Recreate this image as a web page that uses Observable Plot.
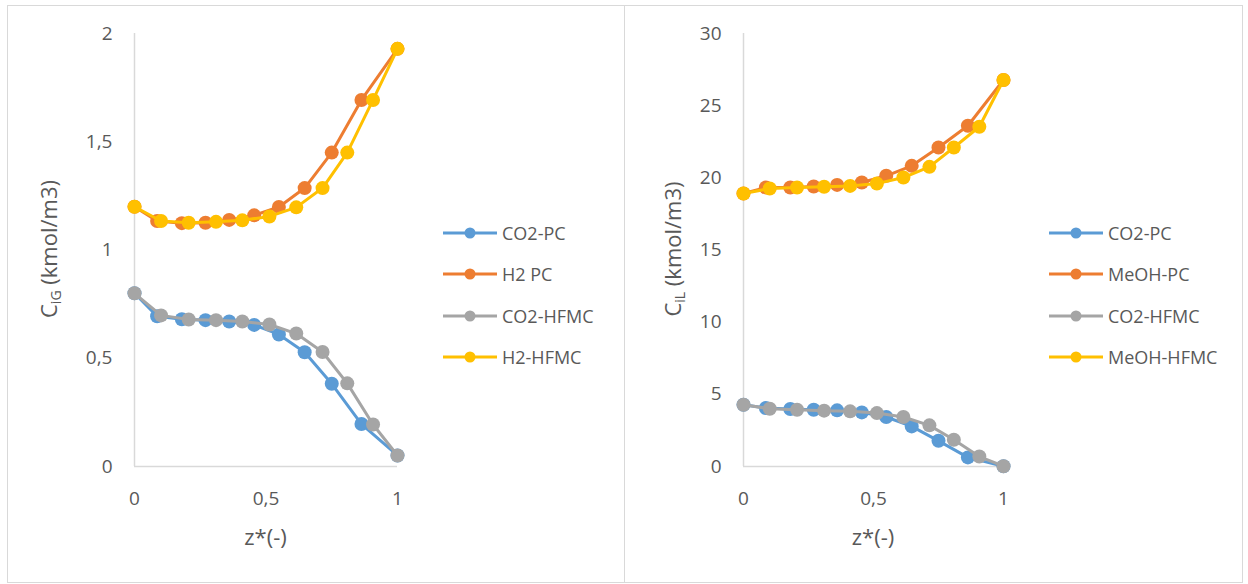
<!DOCTYPE html>
<html>
<head>
<meta charset="utf-8">
<script src="https://cdn.jsdelivr.net/npm/d3@7"></script>
<script src="https://cdn.jsdelivr.net/npm/@observablehq/plot@0.6"></script>
<style>
  html, body { margin: 0; padding: 0; background: #fff; }
  #root { position: relative; width: 1248px; height: 584px; overflow: hidden; font-family: "Open Sans", sans-serif; color: #595959; }
  .panel { position: absolute; border: 1px solid #d9d9d9; box-sizing: border-box; }
  .chart { position: absolute; top: 0; }
  .legend { position: absolute; }
  .row { position: absolute; left: 0; height: 20px; display: flex; align-items: center; white-space: nowrap; font-size: 18px; }
  .row svg { display: block; margin-right: 5px; }
</style>
</head>
<body>
<div id="root">
  <div class="panel" style="left:7px; top:5px; width:618px; height:578px;"></div>
  <div class="panel" style="left:624px; top:5px; width:619px; height:578px;"></div>
</div>
<script>
// ---------- data ----------
const zPC   = [0, 0.086, 0.18, 0.27, 0.36, 0.455, 0.549, 0.647, 0.75, 0.863, 1];
const zHFMC = [0, 0.101, 0.206, 0.31, 0.41, 0.513, 0.615, 0.715, 0.809, 0.907, 1];

// Gas phase (left chart), C_iG (kmol/m3)
const gasLabels = ["CO2-PC", "H2 PC", "CO2-HFMC", "H2-HFMC"];
const co2PC_G   = [0.80, 0.694, 0.680, 0.676, 0.670, 0.654, 0.610, 0.528, 0.382, 0.196, 0.051];
const h2PC      = [1.20, 1.134, 1.124, 1.126, 1.139, 1.160, 1.199, 1.286, 1.450, 1.693, 1.929];
const co2HFMC_G = [0.80, 0.698, 0.679, 0.676, 0.670, 0.656, 0.614, 0.529, 0.384, 0.194, 0.051];
const h2HFMC    = [1.20, 1.134, 1.126, 1.130, 1.137, 1.155, 1.197, 1.286, 1.450, 1.693, 1.929];
const gasTicks  = [0, 0.5, 1, 1.5, 2];

// Liquid phase (right chart), C_iL (kmol/m3)
const liqLabels = ["CO2-PC", "MeOH-PC", "CO2-HFMC", "MeOH-HFMC"];
const co2PC_L   = [4.28, 4.05, 3.98, 3.93, 3.89, 3.75, 3.43, 2.78, 1.78, 0.63, 0.02];
const meohPC    = [18.91, 19.33, 19.33, 19.40, 19.51, 19.68, 20.14, 20.83, 22.10, 23.61, 26.78];
const co2HFMC_L = [4.28, 4.00, 3.93, 3.87, 3.82, 3.70, 3.43, 2.85, 1.85, 0.69, 0.02];
const meohHFMC  = [18.91, 19.26, 19.33, 19.38, 19.44, 19.60, 20.02, 20.76, 22.10, 23.54, 26.78];
const liqTicks  = [0, 5, 10, 15, 20, 25, 30];

const xTicks = [0, 0.5, 1];
const colors = ["#5B9BD5", "#ED7D31", "#A5A5A5", "#FFC000"];

const comma = d => String(d).replace(".", ",");

function makeChart(opts) {
  const {left, series, labels, yMax, yTicks, marginLeft, marginRight, yTitleMain, yTitleSub, yTitleX, legendX} = opts;
  const marks = [
    Plot.ruleX([0], {stroke: "#d9d9d9", strokeWidth: 1.5}),
    Plot.ruleY([0], {stroke: "#d9d9d9", strokeWidth: 1.5})
  ];
  series.forEach((s, i) => {
    const zs = (i === 0 || i === 1) ? zPC : zHFMC;
    const data = s.map((v, j) => ({z: zs[j], v}));
    marks.push(Plot.line(data, {x: "z", y: "v", stroke: colors[i], strokeWidth: 3}));
    marks.push(Plot.dot(data, {x: "z", y: "v", r: 7, fill: colors[i], stroke: "none"}));
  });
  marks.push(Plot.axisY({ticks: yTicks, tickSize: 0, tickPadding: 22, tickFormat: comma, label: null}));
  marks.push(Plot.axisX({ticks: xTicks, tickSize: 0, tickPadding: 25, tickFormat: comma, label: null}));

  const svg = Plot.plot({
    width: 624,
    height: 584,
    marginLeft, marginRight,
    marginTop: 33,
    marginBottom: 118,
    x: {domain: [0, 1]},
    y: {domain: [0, yMax]},
    style: {fontFamily: "Open Sans, sans-serif", fontSize: "19px", color: "#595959", background: "transparent", overflow: "visible"},
    marks
  });
  svg.setAttribute("class", "chart");
  svg.style.left = left + "px";

  const s = d3.select(svg);
  // y title with subscript
  const yt = s.append("text")
    .attr("transform", `translate(${yTitleX},249) rotate(-90)`)
    .attr("text-anchor", "middle")
    .attr("fill", "#595959")
    .attr("font-size", 22);
  yt.append("tspan").text(yTitleMain);
  yt.append("tspan").attr("font-size", 14).attr("dy", 4).text(yTitleSub);
  yt.append("tspan").attr("dy", -4).text(" (kmol/m3)");
  // x title
  const xCenter = marginLeft + (624 - marginLeft - marginRight) / 2;
  s.append("text")
    .attr("x", xCenter).attr("y", 545)
    .attr("text-anchor", "middle")
    .attr("fill", "#595959")
    .attr("font-size", 22)
    .text("z*(-)");

  const root = document.getElementById("root");
  root.appendChild(svg);

  // legend
  const leg = document.createElement("div");
  leg.className = "legend";
  leg.style.left = legendX + "px";
  leg.style.top = "0px";
  const rowsY = [233, 274, 316, 357];
  labels.forEach((lab, i) => {
    const row = document.createElement("div");
    row.className = "row";
    row.style.top = (rowsY[i] - 10) + "px";
    row.innerHTML = `<svg width="54" height="14"><line x1="0" x2="54" y1="7" y2="7" stroke="${colors[i]}" stroke-width="3"/><circle cx="27" cy="7" r="5.5" fill="${colors[i]}"/></svg><span>${lab}</span>`;
    leg.appendChild(row);
  });
  root.appendChild(leg);
}

makeChart({
  left: 0,
  series: [co2PC_G, h2PC, co2HFMC_G, h2HFMC],
  labels: gasLabels,
  yMax: 2, yTicks: gasTicks,
  marginLeft: 134, marginRight: 227,
  yTitleMain: "C", yTitleSub: "iG", yTitleX: 57,
  legendX: 443
});

makeChart({
  left: 624,
  series: [co2PC_L, meohPC, co2HFMC_L, meohHFMC],
  labels: liqLabels,
  yMax: 30, yTicks: liqTicks,
  marginLeft: 119, marginRight: 245,
  yTitleMain: "C", yTitleSub: "iL", yTitleX: 57,
  legendX: 1049
});
</script>
</body>
</html>
